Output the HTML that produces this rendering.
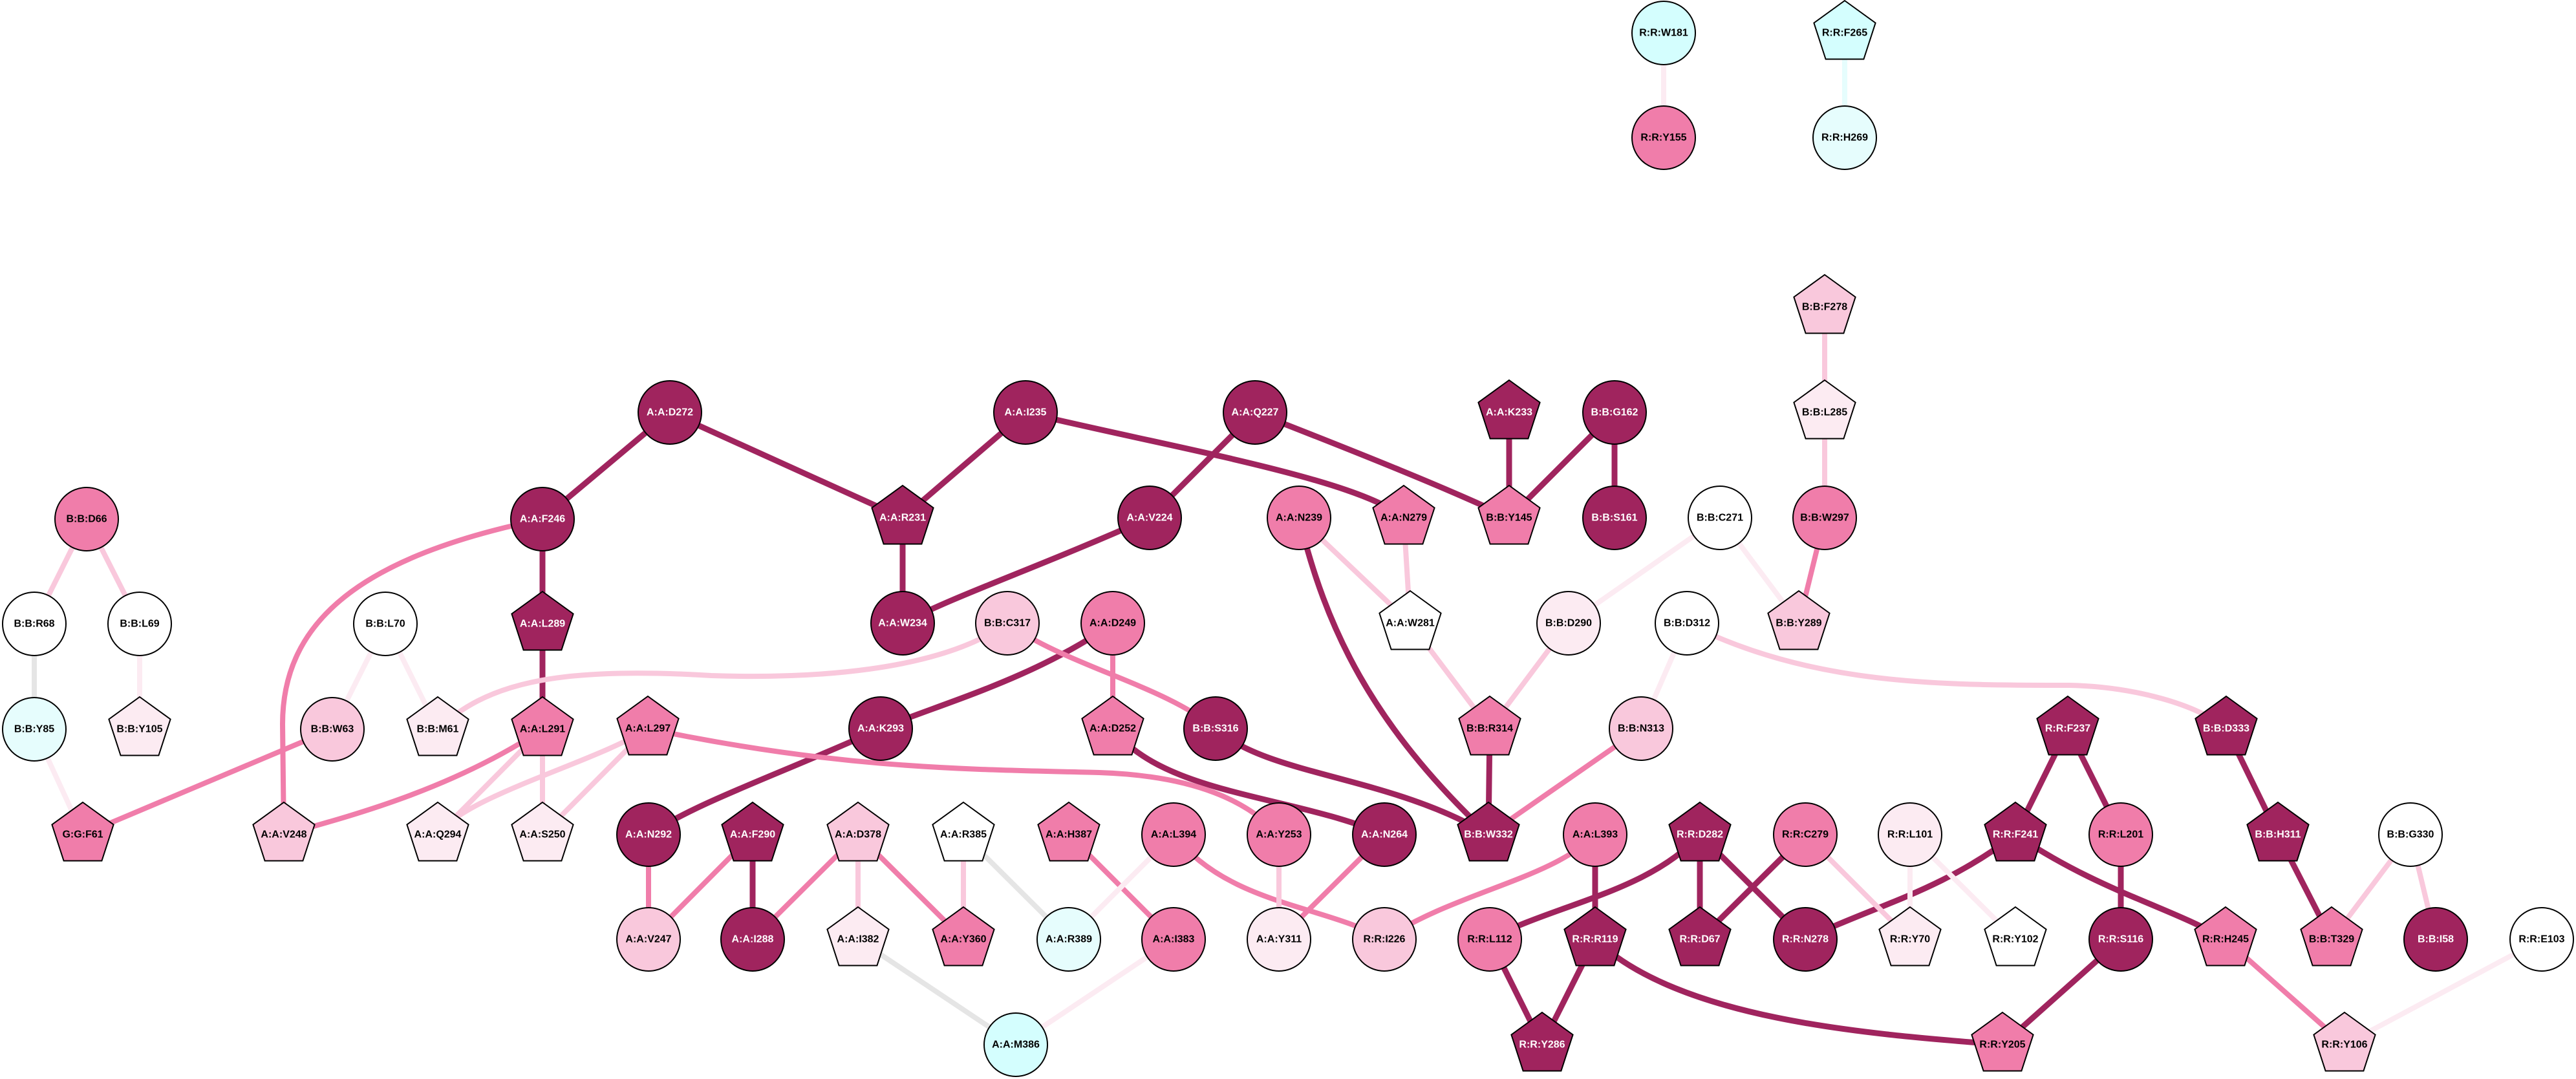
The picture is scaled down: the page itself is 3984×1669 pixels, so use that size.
<!DOCTYPE html>
<html><head><meta charset="utf-8"><style>
html,body{margin:0;padding:0;background:#fff;}
svg{display:block;}
text{font-family:"Liberation Sans",Arial,sans-serif;font-weight:bold;font-size:16px;text-anchor:middle;dominant-baseline:central;}
.w{fill:#fff}.b{fill:#000}
</style></head><body>
<svg width="3984" height="1669" viewBox="0 0 3984 1669" xmlns="http://www.w3.org/2000/svg">
<defs>
<polygon id="p" points="0,-50 47.6,-15.5 29.4,40.5 -29.4,40.5 -47.6,-15.5" stroke="#000" stroke-width="2" stroke-linejoin="miter"/>
<circle id="c" r="49" stroke="#000" stroke-width="2"/>
</defs>
<g fill="none" stroke-linecap="butt">
<!-- dark edges -->
<g stroke="#A0245E" stroke-width="9">
<line x1="1036" y1="638" x2="839" y2="803"/>
<line x1="1036" y1="638" x2="1396" y2="801"/>
<line x1="1586" y1="638" x2="1396" y2="801"/>
<path d="M1586,638 C1800,690 2100,740 2171,801"/>
<line x1="1941" y1="638" x2="1778" y2="801"/>
<path d="M1941,638 C2100,700 2250,760 2334,801"/>
<line x1="2334" y1="638" x2="2334" y2="801"/>
<line x1="2497" y1="638" x2="2334" y2="801"/>
<line x1="2497" y1="638" x2="2497" y2="801"/>
<line x1="839" y1="803" x2="839" y2="965"/>
<line x1="839" y1="965" x2="839" y2="1128"/>
<line x1="1396" y1="801" x2="1396" y2="964"/>
<path d="M1778,801 C1600,880 1480,920 1396,964"/>
<path d="M1721,964 C1600,1050 1450,1090 1362,1127"/>
<path d="M1362,1127 C1200,1200 1080,1240 1003,1291"/>
<line x1="1164" y1="1291" x2="1164" y2="1453"/>
<path d="M2009,801 C2050,970 2120,1120 2302,1291"/>
<path d="M1880,1127 C1960,1200 2150,1200 2302,1291"/>
<path d="M1721,1127 C1800,1230 2000,1230 2141,1291"/>
<line x1="2304" y1="1127" x2="2302" y2="1291"/>
<line x1="2467" y1="1291" x2="2467" y2="1453"/>
<path d="M2629,1291 C2550,1380 2400,1400 2304,1453"/>
<line x1="2629" y1="1291" x2="2629" y2="1453"/>
<line x1="2629" y1="1291" x2="2792" y2="1453"/>
<line x1="2792" y1="1291" x2="2629" y2="1453"/>
<path d="M3117,1291 C3000,1380 2900,1400 2792,1453"/>
<line x1="2304" y1="1453" x2="2385" y2="1616"/>
<line x1="2467" y1="1453" x2="2385" y2="1616"/>
<path d="M2467,1453 C2600,1580 2900,1600 3097,1616"/>
<line x1="3198" y1="1127" x2="3117" y2="1291"/>
<line x1="3198" y1="1127" x2="3280" y2="1291"/>
<line x1="3280" y1="1291" x2="3280" y2="1453"/>
<line x1="3280" y1="1453" x2="3097" y2="1616"/>
<path d="M3117,1291 C3250,1380 3350,1400 3442,1453"/>
<line x1="3443" y1="1127" x2="3523" y2="1291"/>
<line x1="3523" y1="1291" x2="3606" y2="1453"/>
</g>
<!-- mid edges -->
<g stroke="#F07DAA" stroke-width="8">
<path d="M839,803 C560,860 437,960 437,1120 L439,1291"/>
<line x1="514" y1="1128" x2="128" y2="1291"/>
<path d="M839,1128 C700,1220 550,1260 439,1291"/>
<path d="M1002,1127 C1300,1190 1500,1190 1700,1195 C1850,1200 1930,1240 1978,1291"/>
<path d="M1558,964 C1650,1030 1800,1060 1880,1127"/>
<line x1="1721" y1="964" x2="1721" y2="1127"/>
<line x1="2538" y1="1127" x2="2302" y2="1291"/>
<line x1="2822" y1="801" x2="2782" y2="964"/>
<line x1="1003" y1="1291" x2="1003" y2="1453"/>
<line x1="1164" y1="1291" x2="1003" y2="1453"/>
<line x1="1327" y1="1291" x2="1164" y2="1453"/>
<line x1="1327" y1="1291" x2="1490" y2="1453"/>
<line x1="1653" y1="1291" x2="1815" y2="1453"/>
<path d="M1815,1291 C1900,1400 2050,1400 2141,1453"/>
<line x1="2141" y1="1291" x2="1978" y2="1453"/>
<path d="M2467,1291 C2400,1360 2250,1380 2141,1453"/>
<line x1="3442" y1="1453" x2="3626" y2="1616"/>
</g>
<!-- light edges -->
<g stroke="#F9C8DC" stroke-width="8">
<line x1="134" y1="803" x2="53" y2="965"/>
<line x1="134" y1="803" x2="216" y2="965"/>
<path d="M1558,964 C1450,1040 1250,1050 1100,1045 C850,1030 750,1060 677,1128"/>
<line x1="839" y1="1128" x2="677" y2="1291"/>
<line x1="839" y1="1128" x2="839" y2="1291"/>
<path d="M1002,1127 C920,1180 720,1230 677,1291"/>
<line x1="1002" y1="1127" x2="839" y2="1291"/>
<line x1="2009" y1="801" x2="2181" y2="964"/>
<line x1="2171" y1="801" x2="2181" y2="964"/>
<line x1="2181" y1="964" x2="2304" y2="1127"/>
<line x1="2426" y1="964" x2="2304" y2="1127"/>
<path d="M2609,964 C2800,1060 3000,1060 3200,1060 C3300,1062 3400,1090 3443,1127"/>
<line x1="2822" y1="475" x2="2822" y2="638"/>
<line x1="2822" y1="638" x2="2822" y2="801"/>
<line x1="1327" y1="1291" x2="1327" y2="1453"/>
<line x1="1490" y1="1291" x2="1490" y2="1453"/>
<line x1="1978" y1="1291" x2="1978" y2="1453"/>
<line x1="2792" y1="1291" x2="2954" y2="1453"/>
<line x1="3728" y1="1291" x2="3606" y2="1453"/>
<line x1="3728" y1="1291" x2="3767" y2="1453"/>
</g>
<!-- very light edges -->
<g stroke="#FCEBF2" stroke-width="8">
<line x1="216" y1="965" x2="216" y2="1128"/>
<line x1="596" y1="965" x2="514" y2="1128"/>
<line x1="596" y1="965" x2="677" y2="1128"/>
<line x1="53" y1="1128" x2="128" y2="1291"/>
<line x1="2660" y1="801" x2="2426" y2="964"/>
<line x1="2660" y1="801" x2="2782" y2="964"/>
<line x1="2609" y1="964" x2="2538" y2="1127"/>
<line x1="1815" y1="1291" x2="1653" y2="1453"/>
<line x1="1815" y1="1453" x2="1571" y2="1616"/>
<line x1="2954" y1="1291" x2="2954" y2="1453"/>
<line x1="2954" y1="1291" x2="3117" y2="1453"/>
<line x1="3931" y1="1453" x2="3626" y2="1616"/>
<line x1="2573" y1="51" x2="2573" y2="213"/>
</g>
<g stroke="#E5E5E5" stroke-width="8">
<line x1="53" y1="965" x2="53" y2="1128"/>
<line x1="1490" y1="1291" x2="1653" y2="1453"/>
<line x1="1327" y1="1453" x2="1571" y2="1616"/>
</g>
<line x1="2853" y1="51" x2="2853" y2="213" stroke="#E6FDFD" stroke-width="8"/>
</g>

<!-- nodes -->
<g>
<use href="#c" x="2573" y="51" fill="#D4FEFE"/><text x="2573" y="51" class="b">R:R:W181</text>
<use href="#p" x="2853" y="51" fill="#D4FEFE"/><text x="2853" y="51" class="b">R:R:F265</text>
<use href="#c" x="2573" y="213" fill="#F07DAA"/><text x="2573" y="213" class="b">R:R:Y155</text>
<use href="#c" x="2853" y="213" fill="#E6FDFD"/><text x="2853" y="213" class="b">R:R:H269</text>
<use href="#p" x="2822" y="475" fill="#F9C8DC"/><text x="2822" y="475" class="b">B:B:F278</text>

<use href="#c" x="1036" y="638" fill="#A0245E"/><text x="1036" y="638" class="w">A:A:D272</text>
<use href="#c" x="1586" y="638" fill="#A0245E"/><text x="1586" y="638" class="w">A:A:I235</text>
<use href="#c" x="1941" y="638" fill="#A0245E"/><text x="1941" y="638" class="w">A:A:Q227</text>
<use href="#p" x="2334" y="638" fill="#A0245E"/><text x="2334" y="638" class="w">A:A:K233</text>
<use href="#c" x="2497" y="638" fill="#A0245E"/><text x="2497" y="638" class="w">B:B:G162</text>
<use href="#p" x="2822" y="638" fill="#FCEBF2"/><text x="2822" y="638" class="b">B:B:L285</text>

<use href="#c" x="134" y="803" fill="#F07DAA"/><text x="134" y="803" class="b">B:B:D66</text>
<use href="#c" x="839" y="803" fill="#A0245E"/><text x="839" y="803" class="w">A:A:F246</text>
<use href="#p" x="1396" y="801" fill="#A0245E"/><text x="1396" y="801" class="w">A:A:R231</text>
<use href="#c" x="1778" y="801" fill="#A0245E"/><text x="1778" y="801" class="w">A:A:V224</text>
<use href="#c" x="2009" y="801" fill="#F07DAA"/><text x="2009" y="801" class="b">A:A:N239</text>
<use href="#p" x="2171" y="801" fill="#F07DAA"/><text x="2171" y="801" class="b">A:A:N279</text>
<use href="#p" x="2334" y="801" fill="#F07DAA"/><text x="2334" y="801" class="b">B:B:Y145</text>
<use href="#c" x="2497" y="801" fill="#A0245E"/><text x="2497" y="801" class="w">B:B:S161</text>
<use href="#c" x="2660" y="801" fill="#FFFFFF"/><text x="2660" y="801" class="b">B:B:C271</text>
<use href="#c" x="2822" y="801" fill="#F07DAA"/><text x="2822" y="801" class="b">B:B:W297</text>

<use href="#c" x="53" y="965" fill="#FFFFFF"/><text x="53" y="965" class="b">B:B:R68</text>
<use href="#c" x="216" y="965" fill="#FFFFFF"/><text x="216" y="965" class="b">B:B:L69</text>
<use href="#c" x="596" y="965" fill="#FFFFFF"/><text x="596" y="965" class="b">B:B:L70</text>
<use href="#p" x="839" y="965" fill="#A0245E"/><text x="839" y="965" class="w">A:A:L289</text>
<use href="#c" x="1396" y="964" fill="#A0245E"/><text x="1396" y="964" class="w">A:A:W234</text>
<use href="#c" x="1558" y="964" fill="#F9C8DC"/><text x="1558" y="964" class="b">B:B:C317</text>
<use href="#c" x="1721" y="964" fill="#F07DAA"/><text x="1721" y="964" class="b">A:A:D249</text>
<use href="#p" x="2181" y="964" fill="#FFFFFF"/><text x="2181" y="964" class="b">A:A:W281</text>
<use href="#c" x="2426" y="964" fill="#FCEBF2"/><text x="2426" y="964" class="b">B:B:D290</text>
<use href="#c" x="2609" y="964" fill="#FFFFFF"/><text x="2609" y="964" class="b">B:B:D312</text>
<use href="#p" x="2782" y="964" fill="#F9C8DC"/><text x="2782" y="964" class="b">B:B:Y289</text>

<use href="#c" x="53" y="1128" fill="#E6FDFD"/><text x="53" y="1128" class="b">B:B:Y85</text>
<use href="#p" x="216" y="1128" fill="#FCEBF2"/><text x="216" y="1128" class="b">B:B:Y105</text>
<use href="#c" x="514" y="1128" fill="#F9C8DC"/><text x="514" y="1128" class="b">B:B:W63</text>
<use href="#p" x="677" y="1128" fill="#FCEBF2"/><text x="677" y="1128" class="b">B:B:M61</text>
<use href="#p" x="839" y="1128" fill="#F07DAA"/><text x="839" y="1128" class="b">A:A:L291</text>
<use href="#p" x="1002" y="1127" fill="#F07DAA"/><text x="1002" y="1127" class="b">A:A:L297</text>
<use href="#c" x="1362" y="1127" fill="#A0245E"/><text x="1362" y="1127" class="w">A:A:K293</text>
<use href="#p" x="1721" y="1127" fill="#F07DAA"/><text x="1721" y="1127" class="b">A:A:D252</text>
<use href="#c" x="1880" y="1127" fill="#A0245E"/><text x="1880" y="1127" class="w">B:B:S316</text>
<use href="#p" x="2304" y="1127" fill="#F07DAA"/><text x="2304" y="1127" class="b">B:B:R314</text>
<use href="#c" x="2538" y="1127" fill="#F9C8DC"/><text x="2538" y="1127" class="b">B:B:N313</text>
<use href="#p" x="3198" y="1127" fill="#A0245E"/><text x="3198" y="1127" class="w">R:R:F237</text>
<use href="#p" x="3443" y="1127" fill="#A0245E"/><text x="3443" y="1127" class="w">B:B:D333</text>

<use href="#p" x="128" y="1291" fill="#F07DAA"/><text x="128" y="1291" class="b">G:G:F61</text>
<use href="#p" x="439" y="1291" fill="#F9C8DC"/><text x="439" y="1291" class="b">A:A:V248</text>
<use href="#p" x="677" y="1291" fill="#FCEBF2"/><text x="677" y="1291" class="b">A:A:Q294</text>
<use href="#p" x="839" y="1291" fill="#FCEBF2"/><text x="839" y="1291" class="b">A:A:S250</text>
<use href="#c" x="1003" y="1291" fill="#A0245E"/><text x="1003" y="1291" class="w">A:A:N292</text>
<use href="#p" x="1164" y="1291" fill="#A0245E"/><text x="1164" y="1291" class="w">A:A:F290</text>
<use href="#p" x="1327" y="1291" fill="#F9C8DC"/><text x="1327" y="1291" class="b">A:A:D378</text>
<use href="#p" x="1490" y="1291" fill="#FFFFFF"/><text x="1490" y="1291" class="b">A:A:R385</text>
<use href="#p" x="1653" y="1291" fill="#F07DAA"/><text x="1653" y="1291" class="b">A:A:H387</text>
<use href="#c" x="1815" y="1291" fill="#F07DAA"/><text x="1815" y="1291" class="b">A:A:L394</text>
<use href="#c" x="1978" y="1291" fill="#F07DAA"/><text x="1978" y="1291" class="b">A:A:Y253</text>
<use href="#c" x="2141" y="1291" fill="#A0245E"/><text x="2141" y="1291" class="w">A:A:N264</text>
<use href="#p" x="2302" y="1291" fill="#A0245E"/><text x="2302" y="1291" class="w">B:B:W332</text>
<use href="#c" x="2467" y="1291" fill="#F07DAA"/><text x="2467" y="1291" class="b">A:A:L393</text>
<use href="#p" x="2629" y="1291" fill="#A0245E"/><text x="2629" y="1291" class="w">R:R:D282</text>
<use href="#c" x="2792" y="1291" fill="#F07DAA"/><text x="2792" y="1291" class="b">R:R:C279</text>
<use href="#c" x="2954" y="1291" fill="#FCEBF2"/><text x="2954" y="1291" class="b">R:R:L101</text>
<use href="#p" x="3117" y="1291" fill="#A0245E"/><text x="3117" y="1291" class="w">R:R:F241</text>
<use href="#c" x="3280" y="1291" fill="#F07DAA"/><text x="3280" y="1291" class="b">R:R:L201</text>
<use href="#p" x="3523" y="1291" fill="#A0245E"/><text x="3523" y="1291" class="w">B:B:H311</text>
<use href="#c" x="3728" y="1291" fill="#FFFFFF"/><text x="3728" y="1291" class="b">B:B:G330</text>

<use href="#c" x="1003" y="1453" fill="#F9C8DC"/><text x="1003" y="1453" class="b">A:A:V247</text>
<use href="#c" x="1164" y="1453" fill="#A0245E"/><text x="1164" y="1453" class="w">A:A:I288</text>
<use href="#p" x="1327" y="1453" fill="#FCEBF2"/><text x="1327" y="1453" class="b">A:A:I382</text>
<use href="#p" x="1490" y="1453" fill="#F07DAA"/><text x="1490" y="1453" class="b">A:A:Y360</text>
<use href="#c" x="1653" y="1453" fill="#E6FDFD"/><text x="1653" y="1453" class="b">A:A:R389</text>
<use href="#c" x="1815" y="1453" fill="#F07DAA"/><text x="1815" y="1453" class="b">A:A:I383</text>
<use href="#c" x="1978" y="1453" fill="#FCEBF2"/><text x="1978" y="1453" class="b">A:A:Y311</text>
<use href="#c" x="2141" y="1453" fill="#F9C8DC"/><text x="2141" y="1453" class="b">R:R:I226</text>
<use href="#c" x="2304" y="1453" fill="#F07DAA"/><text x="2304" y="1453" class="b">R:R:L112</text>
<use href="#p" x="2467" y="1453" fill="#A0245E"/><text x="2467" y="1453" class="w">R:R:R119</text>
<use href="#p" x="2629" y="1453" fill="#A0245E"/><text x="2629" y="1453" class="w">R:R:D67</text>
<use href="#c" x="2792" y="1453" fill="#A0245E"/><text x="2792" y="1453" class="w">R:R:N278</text>
<use href="#p" x="2954" y="1453" fill="#FCEBF2"/><text x="2954" y="1453" class="b">R:R:Y70</text>
<use href="#p" x="3117" y="1453" fill="#FFFFFF"/><text x="3117" y="1453" class="b">R:R:Y102</text>
<use href="#c" x="3280" y="1453" fill="#A0245E"/><text x="3280" y="1453" class="w">R:R:S116</text>
<use href="#p" x="3442" y="1453" fill="#F07DAA"/><text x="3442" y="1453" class="b">R:R:H245</text>
<use href="#p" x="3606" y="1453" fill="#F07DAA"/><text x="3606" y="1453" class="b">B:B:T329</text>
<use href="#c" x="3767" y="1453" fill="#A0245E"/><text x="3767" y="1453" class="w">B:B:I58</text>
<use href="#c" x="3931" y="1453" fill="#FFFFFF"/><text x="3931" y="1453" class="b">R:R:E103</text>

<use href="#c" x="1571" y="1616" fill="#D4FEFE"/><text x="1571" y="1616" class="b">A:A:M386</text>
<use href="#p" x="2385" y="1616" fill="#A0245E"/><text x="2385" y="1616" class="w">R:R:Y286</text>
<use href="#p" x="3097" y="1616" fill="#F07DAA"/><text x="3097" y="1616" class="b">R:R:Y205</text>
<use href="#p" x="3626" y="1616" fill="#F9C8DC"/><text x="3626" y="1616" class="b">R:R:Y106</text>
</g>
</svg>
</body></html>
